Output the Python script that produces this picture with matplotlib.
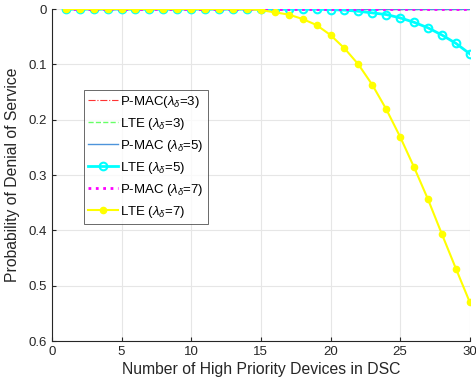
import numpy as np
import matplotlib
matplotlib.use("Agg")
import matplotlib.pyplot as plt

plt.rcParams['font.family'] = ['Liberation Sans', 'DejaVu Sans']
plt.rcParams['mathtext.fontset'] = 'custom'
plt.rcParams['mathtext.it'] = 'Liberation Sans:italic'
plt.rcParams['mathtext.rm'] = 'Liberation Sans'

n_devices = np.arange(1, 31)

# probability of denial of service
pmac_3 = [0.0] * 30
lte_3 = [0.0] * 30
pmac_5 = [0.0] * 30
pmac_7 = [0.0] * 30
lte_5 = [0.0] * 19 + [0.001, 0.002, 0.004, 0.007, 0.010, 0.016,
                      0.024, 0.034, 0.047, 0.062, 0.081]
lte_7 = [0.0] * 14 + [0.002, 0.006, 0.010, 0.018, 0.029, 0.047, 0.071,
                      0.100, 0.137, 0.181, 0.231, 0.286, 0.344, 0.407,
                      0.469, 0.530]

labels = [r'P-MAC($\lambda_\delta$=3)', r'LTE ($\lambda_\delta$=3)',
          r'P-MAC ($\lambda_\delta$=5)', r'LTE ($\lambda_\delta$=5)',
          r'P-MAC ($\lambda_\delta$=7)', r'LTE ($\lambda_\delta$=7)']

fig = plt.figure(figsize=(4.76, 3.92), dpi=100)
ax = fig.add_axes([0.109, 0.130, 0.878, 0.847])

ax.plot(n_devices, pmac_3, color='#ff3333', ls='-.', lw=0.8, label=labels[0])
ax.plot(n_devices, lte_3, color='#66ff66', ls='--', lw=1.0, label=labels[1])
ax.plot(n_devices, pmac_5, color='#4d94db', ls='-', lw=1.0, label=labels[2])
ax.plot(n_devices, lte_5, color='#00ffff', ls='-', lw=2.0, marker='o',
        ms=5.5, mfc='none', mew=1.5, label=labels[3])
ax.plot(n_devices, pmac_7, color='#ff00ff', ls=':', lw=2.0, label=labels[4])
ax.plot(n_devices, lte_7, color='#ffff00', ls='-', lw=1.5, marker='o',
        ms=4.5, label=labels[5])

ax.set_xlim(0, 30)
ax.set_ylim(0.6, 0)
ax.set_xticks(np.arange(0, 31, 5))
ax.set_yticks(np.arange(0, 0.61, 0.1))
ax.set_yticklabels(['0', '0.1', '0.2', '0.3', '0.4', '0.5', '0.6'])
ax.grid(True, color='#e6e6e6', lw=0.8)
ax.set_axisbelow(True)
for s in ['top', 'right']:
    ax.spines[s].set_visible(False)
for s in ['left', 'bottom']:
    ax.spines[s].set_color('#262626')
    ax.spines[s].set_linewidth(0.8)
ax.tick_params(direction='in', length=3, labelsize=9.5, colors='#262626')
ax.set_xlabel('Number of High Priority Devices in DSC', fontsize=11.3,
              color='#262626', labelpad=3)
ax.set_ylabel('Probability of Denial of Service', fontsize=11.3,
              color='#262626', labelpad=6)

leg = ax.legend(loc='upper left', bbox_to_anchor=(0.077, 0.756), fontsize=9.5,
                frameon=True, fancybox=False, edgecolor='#262626',
                borderpad=0.3, labelspacing=0.45, handlelength=2.3,
                handletextpad=0.15, borderaxespad=0)
leg.get_frame().set_linewidth(0.6)

fig.savefig('out.png', dpi=100)
